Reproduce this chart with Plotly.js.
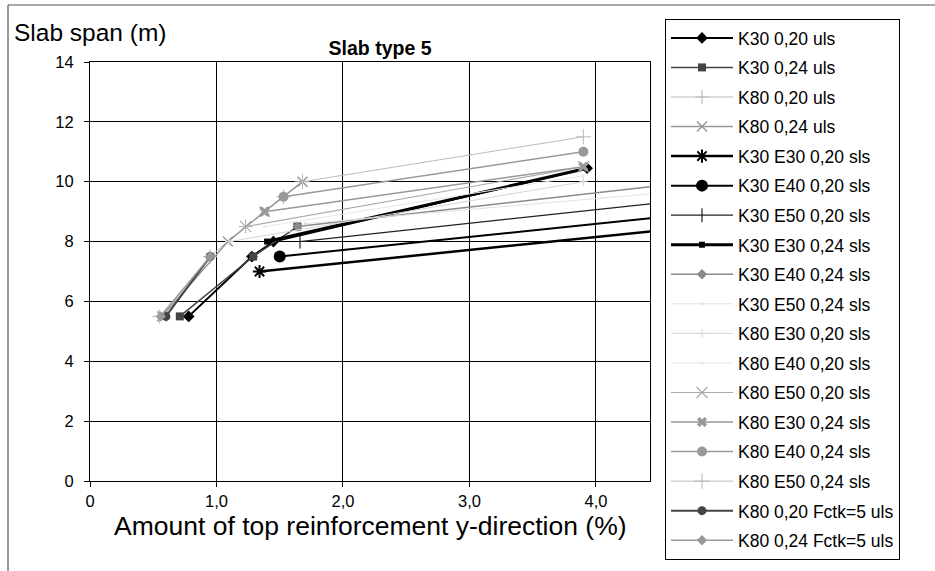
<!DOCTYPE html>
<html>
<head>
<meta charset="utf-8">
<script src="https://cdn.plot.ly/plotly-3.0.1.min.js"></script>
<style>
  html, body { margin: 0; padding: 0; background: #ffffff; }
  #chart { width: 935px; height: 571px; }
</style>
</head>
<body>
<div id="chart"></div>
<script>
// ---- Data ----
const seriesNames = [
  "K30 0,20 uls", "K30 0,24 uls", "K80 0,20 uls", "K80 0,24 uls",
  "K30 E30 0,20 sls", "K30 E40 0,20 sls", "K30 E50 0,20 sls",
  "K30 E30 0,24 sls", "K30 E40 0,24 sls", "K30 E50 0,24 sls",
  "K80 E30 0,20 sls", "K80 E40 0,20 sls", "K80 E50 0,20 sls",
  "K80 E30 0,24 sls", "K80 E40 0,24 sls", "K80 E50 0,24 sls",
  "K80 0,20 Fctk=5 uls", "K80 0,24 Fctk=5 uls"
];
// Amount of top reinforcement y-direction (%)
const seriesX = [
  [0.78, 1.28, 1.45, 3.93],
  [0.71, 1.29, 1.64],
  [0.55, 0.95, 1.23, 1.53],
  [0.57, 1.09, 1.38, 1.68],
  [1.34, 5.5],
  [1.50, 5.5],
  [1.66, 5.5],
  [1.40, 3.93],
  [1.64, 5.2],
  [1.70, 5.0],
  [1.10, 3.90],
  [1.38, 3.90],
  [1.23, 3.90],
  [1.38, 3.90],
  [1.53, 3.90],
  [1.68, 3.90],
  [0.60, 0.95],
  [0.56, 0.95]
];
// Slab span (m)
const seriesY = [
  [5.5, 7.5, 8.0, 10.45],
  [5.5, 7.5, 8.5],
  [5.5, 7.5, 8.5, 9.5],
  [5.5, 8.0, 9.0, 10.0],
  [7.0, 8.8],
  [7.5, 9.25],
  [8.0, 9.75],
  [8.0, 10.45],
  [8.5, 10.2],
  [8.6, 9.8],
  [8.0, 10.0],
  [8.5, 10.2],
  [8.5, 10.5],
  [9.0, 10.5],
  [9.5, 11.0],
  [10.0, 11.5],
  [5.5, 7.5],
  [5.5, 7.5]
];
const xTickVals = [0, 1, 2, 3, 4];
const xTickText = ["0", "1,0", "2,0", "3,0", "4,0"];
const yTickVals = [0, 2, 4, 6, 8, 10, 12, 14];
const yTickText = ["0", "2", "4", "6", "8", "10", "12", "14"];

// ---- Styles ----
const styles = [
  {c: "#000000", w: 2,   s: "diamond",          ms: 9,  ml: 0},
  {c: "#444444", w: 1.5, s: "square",           ms: 8,  ml: 0},
  {c: "#bbbbbb", w: 1,   s: "cross-thin-open",  ms: 10, ml: 1.2},
  {c: "#999999", w: 1.5, s: "x-thin-open",      ms: 10, ml: 1.5},
  {c: "#000000", w: 2.5, s: "asterisk-open",    ms: 11, ml: 2},
  {c: "#000000", w: 2,   s: "circle",           ms: 12, ml: 0},
  {c: "#222222", w: 1.2, s: "line-ns-open",     ms: 10, ml: 1.2},
  {c: "#000000", w: 3,   s: "square",           ms: 6,  ml: 0},
  {c: "#8a8a8a", w: 1.5, s: "diamond",          ms: 8,  ml: 0},
  {c: "#e2e2e2", w: 1,   s: "circle",           ms: 3,  ml: 0},
  {c: "#d6d6d6", w: 1,   s: "cross-thin-open",  ms: 6,  ml: 1},
  {c: "#e6e6e6", w: 1,   s: "circle",           ms: 3,  ml: 0},
  {c: "#aaaaaa", w: 1.2, s: "x-thin-open",      ms: 11, ml: 1.2},
  {c: "#999999", w: 1.5, s: "x",                ms: 9,  ml: 0},
  {c: "#999999", w: 1.5, s: "circle",           ms: 10, ml: 0},
  {c: "#bbbbbb", w: 1,   s: "cross-thin-open",  ms: 11, ml: 1},
  {c: "#444444", w: 2,   s: "circle",           ms: 9,  ml: 0},
  {c: "#999999", w: 1.5, s: "diamond",          ms: 8,  ml: 0}
];

const traces = seriesNames.map((name, i) => {
  const st = styles[i];
  return {
    type: "scatter",
    mode: "lines+markers",
    name: name,
    legendgroup: "g" + i,
    x: seriesX[i],
    y: seriesY[i],
    line: {color: st.c, width: st.w},
    marker: {symbol: st.s, size: st.ms, color: st.c,
             line: {color: st.c, width: st.ml}},
    cliponaxis: true
  };
});

const font = "Liberation Sans, Arial, Helvetica, sans-serif";
const axisCommon = {
  showgrid: true, gridcolor: "#000000", gridwidth: 1,
  showline: true, linecolor: "#000000", linewidth: 1, mirror: true,
  ticks: "outside", ticklen: 5, tickcolor: "#000000", tickwidth: 1,
  zeroline: false, tickfont: {family: font, size: 16.5, color: "#000000"},
  fixedrange: true
};

const layout = {
  width: 935, height: 571,
  margin: {l: 90, r: 285, t: 62, b: 90},
  paper_bgcolor: "#ffffff", plot_bgcolor: "#ffffff",
  font: {family: font, color: "#000000"},
  title: {text: "<b>Slab type 5</b>", font: {family: font, size: 19.5, color: "#000000"},
          x: 0.518, xref: "paper", xanchor: "center", y: 1 - 48/571, yanchor: "middle"},
  xaxis: Object.assign({}, axisCommon, {
    range: [0, 4.427], tickmode: "array", tickvals: xTickVals, ticktext: xTickText
  }),
  yaxis: Object.assign({}, axisCommon, {
    range: [0, 14], tickmode: "array", tickvals: yTickVals, ticktext: yTickText,
    ticklabelstandoff: 7
  }),
  showlegend: true,
  legend: {
    x: (665 - 90) / 560, xanchor: "left",
    y: (481 - 19) / 419, yanchor: "top",
    bgcolor: "#ffffff", bordercolor: "#000000", borderwidth: 1,
    font: {family: font, size: 17.5, color: "#000000"},
    traceorder: "grouped", tracegroupgap: 3.8, itemwidth: 62,
    maxheight: 2000
  },
  annotations: [
    {text: "Slab span (m)", xref: "paper", yref: "paper",
     x: (12 - 90) / 560, xanchor: "left", y: (481 - 32) / 419, yanchor: "middle",
     showarrow: false, font: {family: font, size: 24.5, color: "#000000"}},
    {text: "Amount of top reinforcement y-direction (%)", xref: "paper", yref: "paper",
     x: (370 - 90) / 560, xanchor: "center", y: (481 - 526) / 419, yanchor: "middle",
     showarrow: false, font: {family: font, size: 26.5, color: "#000000"}}
  ],
  shapes: [
    {type: "line", xref: "paper", yref: "paper",
     x0: (8 - 90) / 560, x1: (8 - 90) / 560, y0: (481 - 571) / 419, y1: (481 - 5) / 419,
     line: {color: "#333333", width: 1}},
    {type: "line", xref: "paper", yref: "paper",
     x0: (8 - 90) / 560, x1: (935 - 90) / 560, y0: (481 - 5) / 419, y1: (481 - 5) / 419,
     line: {color: "#555555", width: 1}}
  ]
};

Plotly.newPlot("chart", traces, layout, {displayModeBar: false, staticPlot: true});
</script>
</body>
</html>
